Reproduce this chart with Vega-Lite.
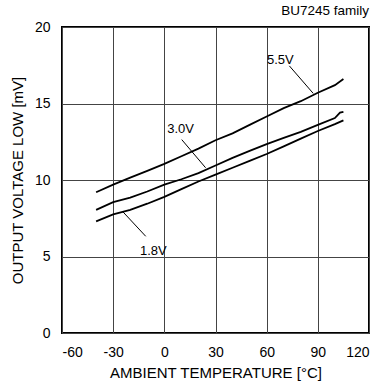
{
  "$schema": "https://vega.github.io/schema/vega-lite/v6.json",
  "width": 307,
  "height": 306,
  "autosize": {"type": "none"},
  "padding": {"left": 62, "top": 27, "right": 9, "bottom": 49},
  "background": "white",
  "title": {"text": "BU7245 family", "anchor": "end", "frame": "group", "fontSize": 13.5, "font": "Liberation Sans", "fontWeight": "normal", "color": "black", "offset": 3},
  "config": {
    "view": {"stroke": "black", "strokeWidth": 2},
    "axis": {
      "domain": false,
      "ticks": false,
      "tickSize": 0,
      "grid": true,
      "gridColor": "#444",
      "gridWidth": 1,
      "gridOpacity": 1,
      "labelFont": "Liberation Sans",
      "labelFontSize": 14,
      "labelColor": "black",
      "labelExpr": "'' + datum.value",
      "titleFont": "Liberation Sans",
      "titleFontWeight": "normal",
      "titleColor": "black"
    }
  },
  "datasets": {
    "curves": [
      {"series": "5.5V", "temp": -40, "mv": 9.2},
      {"series": "5.5V", "temp": -30, "mv": 9.7},
      {"series": "5.5V", "temp": -20, "mv": 10.15},
      {"series": "5.5V", "temp": -10, "mv": 10.6},
      {"series": "5.5V", "temp": 0, "mv": 11.05},
      {"series": "5.5V", "temp": 10, "mv": 11.55},
      {"series": "5.5V", "temp": 20, "mv": 12.05},
      {"series": "5.5V", "temp": 30, "mv": 12.6},
      {"series": "5.5V", "temp": 40, "mv": 13.05},
      {"series": "5.5V", "temp": 50, "mv": 13.6},
      {"series": "5.5V", "temp": 60, "mv": 14.15},
      {"series": "5.5V", "temp": 70, "mv": 14.7},
      {"series": "5.5V", "temp": 80, "mv": 15.15},
      {"series": "5.5V", "temp": 90, "mv": 15.7},
      {"series": "5.5V", "temp": 100, "mv": 16.2},
      {"series": "5.5V", "temp": 105, "mv": 16.6},
      {"series": "3.0V", "temp": -40, "mv": 8.05},
      {"series": "3.0V", "temp": -30, "mv": 8.55},
      {"series": "3.0V", "temp": -20, "mv": 8.85},
      {"series": "3.0V", "temp": -10, "mv": 9.25},
      {"series": "3.0V", "temp": 0, "mv": 9.7},
      {"series": "3.0V", "temp": 10, "mv": 10.05},
      {"series": "3.0V", "temp": 20, "mv": 10.45},
      {"series": "3.0V", "temp": 30, "mv": 10.95},
      {"series": "3.0V", "temp": 40, "mv": 11.45},
      {"series": "3.0V", "temp": 50, "mv": 11.9},
      {"series": "3.0V", "temp": 60, "mv": 12.35},
      {"series": "3.0V", "temp": 70, "mv": 12.75},
      {"series": "3.0V", "temp": 80, "mv": 13.15},
      {"series": "3.0V", "temp": 90, "mv": 13.6},
      {"series": "3.0V", "temp": 100, "mv": 14.05},
      {"series": "3.0V", "temp": 103, "mv": 14.4},
      {"series": "3.0V", "temp": 105, "mv": 14.45},
      {"series": "1.8V", "temp": -40, "mv": 7.3},
      {"series": "1.8V", "temp": -30, "mv": 7.75},
      {"series": "1.8V", "temp": -20, "mv": 8.05},
      {"series": "1.8V", "temp": -10, "mv": 8.45},
      {"series": "1.8V", "temp": 0, "mv": 8.9},
      {"series": "1.8V", "temp": 10, "mv": 9.4},
      {"series": "1.8V", "temp": 20, "mv": 9.9},
      {"series": "1.8V", "temp": 30, "mv": 10.35},
      {"series": "1.8V", "temp": 40, "mv": 10.8},
      {"series": "1.8V", "temp": 50, "mv": 11.25},
      {"series": "1.8V", "temp": 60, "mv": 11.7},
      {"series": "1.8V", "temp": 70, "mv": 12.2},
      {"series": "1.8V", "temp": 80, "mv": 12.7},
      {"series": "1.8V", "temp": 90, "mv": 13.2},
      {"series": "1.8V", "temp": 100, "mv": 13.65},
      {"series": "1.8V", "temp": 105, "mv": 13.9}
    ],
    "leaders": [
      {"series": "5.5V", "x1": 73.3, "y1": 17.46, "x2": 87.3, "y2": 15.66},
      {"series": "3.0V", "x1": 10.2, "y1": 12.64, "x2": 24.2, "y2": 10.8},
      {"series": "1.8V", "x1": -24.7, "y1": 7.97, "x2": -10.9, "y2": 6.32}
    ],
    "labels": [
      {"series": "5.5V", "tx": 60.2, "ty": 17.6},
      {"series": "3.0V", "tx": 1.7, "ty": 13.1},
      {"series": "1.8V", "tx": -14.3, "ty": 5.1}
    ]
  },
  "layer": [
    {
      "data": {"name": "curves"},
      "mark": {"type": "line", "color": "black", "strokeWidth": 1.8},
      "encoding": {
        "x": {"field": "temp", "type": "quantitative", "scale": {"domain": [-60, 120], "nice": false}, "axis": {"values": [-60, -30, 0, 30, 60, 90, 120], "title": "AMBIENT TEMPERATURE [°C]", "titleFontSize": 15, "labelPadding": 12, "titlePadding": 6}},
        "y": {"field": "mv", "type": "quantitative", "scale": {"domain": [0, 20], "nice": false}, "axis": {"values": [0, 5, 10, 15, 20], "title": "OUTPUT VOLTAGE LOW [mV]", "titleFontSize": 15, "labelPadding": 12, "titlePadding": 9}},
        "detail": {"field": "series"}
      }
    },
    {
      "data": {"name": "leaders"},
      "mark": {"type": "rule", "color": "black", "strokeWidth": 1},
      "encoding": {
        "x": {"field": "x1", "type": "quantitative"},
        "y": {"field": "y1", "type": "quantitative"},
        "x2": {"field": "x2"},
        "y2": {"field": "y2"}
      }
    },
    {
      "data": {"name": "labels"},
      "mark": {"type": "text", "align": "left", "baseline": "alphabetic", "font": "Liberation Sans", "fontSize": 13, "color": "black"},
      "encoding": {
        "x": {"field": "tx", "type": "quantitative"},
        "y": {"field": "ty", "type": "quantitative"},
        "text": {"field": "series"}
      }
    }
  ]
}
